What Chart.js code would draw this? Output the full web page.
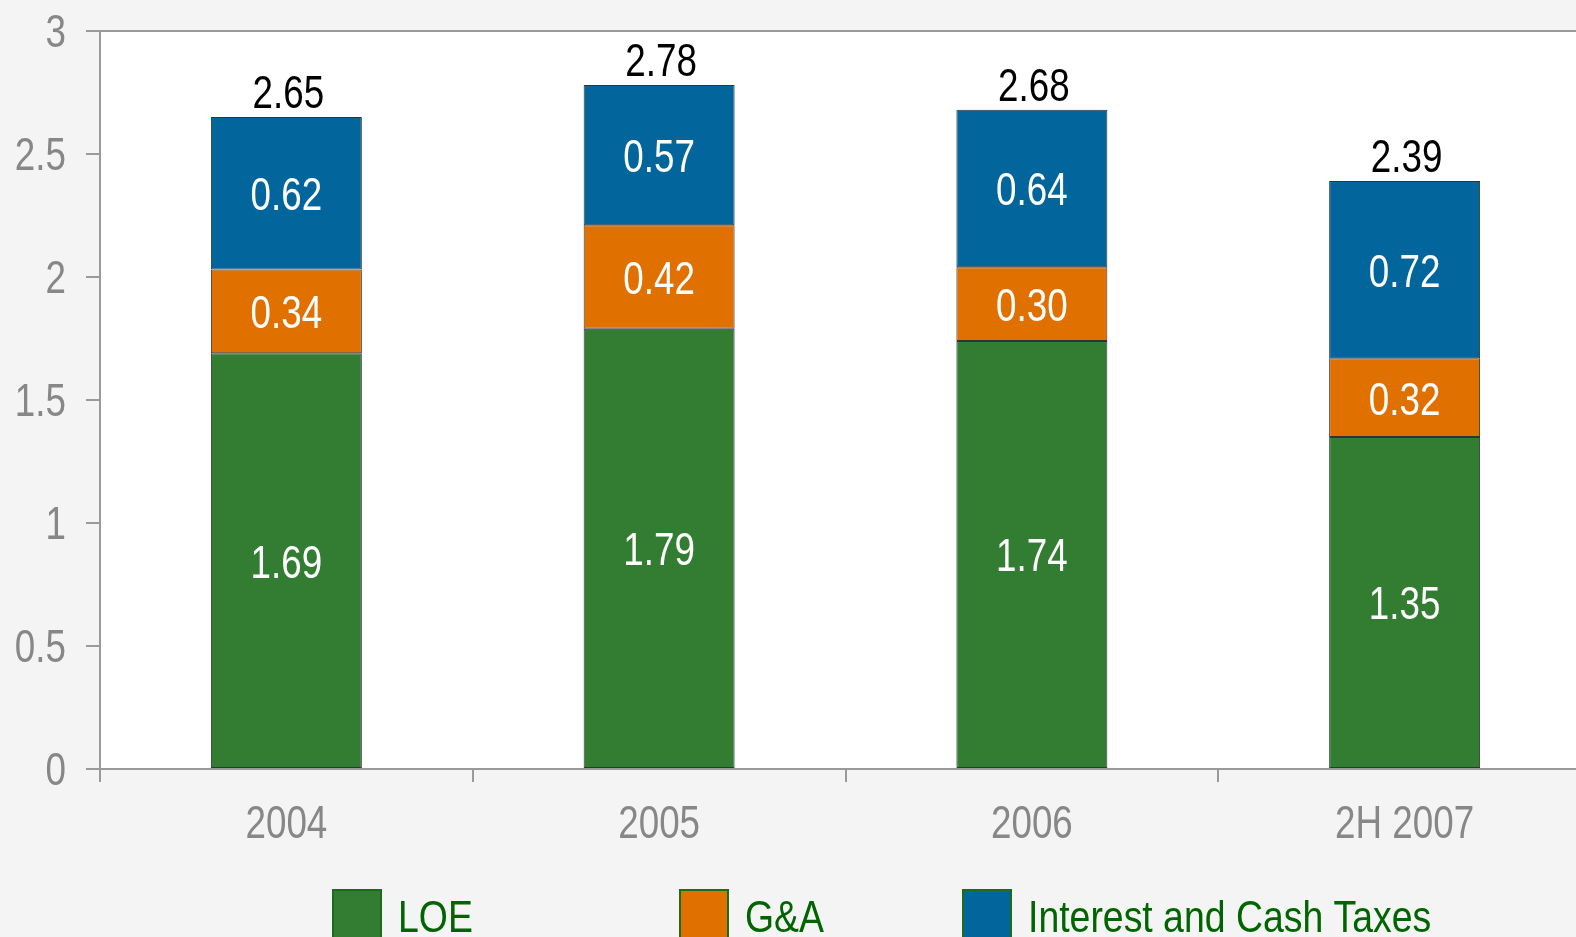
<!DOCTYPE html>
<html>
<head>
<meta charset="utf-8">
<script src="https://cdn.jsdelivr.net/npm/chart.js@4.4.1/dist/chart.umd.min.js"></script>
<style>
  html, body { margin: 0; padding: 0; background: #f4f4f4; overflow: hidden; }
  #wrap { width: 1600px; height: 937px; }
</style>
</head>
<body>
<div id="wrap"><canvas id="costChart" width="1600" height="937"></canvas></div>
<script>
// datos
const categories = ['2004', '2005', '2006', '2H 2007'];
const loe      = [1.69, 1.79, 1.74, 1.35];
const gna      = [0.34, 0.42, 0.30, 0.32];
const interest = [0.62, 0.57, 0.64, 0.72];
const totals   = ['2.65', '2.78', '2.68', '2.39'];
const yTicks   = [0, 0.5, 1, 1.5, 2, 2.5, 3];

const FONT = '"Liberation Sans", Arial, sans-serif';
const NARROW = 0.8;   // la fuente original es condensada

// texto comprimido en horizontal
function narrowText(ctx, text, x, y, align, scaleX) {
  const w = ctx.measureText(text).width * scaleX;
  let left = x;
  if (align === 'center') left = x - w / 2;
  else if (align === 'right') left = x - w;
  ctx.save();
  ctx.translate(left, y);
  ctx.scale(scaleX, 1);
  ctx.textAlign = 'left';
  ctx.fillText(text, 0, 0);
  ctx.restore();
}

// fondo gris + area blanca + borde superior
const backdrop = {
  id: 'backdrop',
  beforeDraw(chart) {
    const { ctx, chartArea: a } = chart;
    ctx.save();
    ctx.fillStyle = '#f4f4f4';
    ctx.fillRect(0, 0, chart.width, chart.height);
    ctx.fillStyle = '#ffffff';
    ctx.fillRect(a.left, a.top, a.right - a.left, a.bottom - a.top);
    ctx.strokeStyle = '#9a9a9a';
    ctx.lineWidth = 2;
    ctx.beginPath();
    ctx.moveTo(a.left - 14, a.top);
    ctx.lineTo(a.right, a.top);
    ctx.stroke();
    ctx.restore();
  }
};

// etiquetas de los ejes dibujadas con las escalas
const axisLabels = {
  id: 'axisLabels',
  afterDraw(chart) {
    const { ctx, scales } = chart;
    ctx.save();
    ctx.font = '46px ' + FONT;
    ctx.fillStyle = '#878787';
    ctx.textBaseline = 'alphabetic';
    yTicks.forEach(v => {
      const y = scales.y.getPixelForValue(v);
      narrowText(ctx, String(v), 66, y + 16, 'right', NARROW);
    });
    categories.forEach((c, i) => {
      const x = scales.x.getPixelForValue(i);
      narrowText(ctx, c, x, 838, 'center', NARROW);
    });
    ctx.restore();
  }
};

// etiquetas dentro de cada segmento y total encima
const valueLabels = {
  id: 'valueLabels',
  afterDatasetsDraw(chart) {
    const ctx = chart.ctx;
    ctx.save();
    ctx.font = '46px ' + FONT;
    ctx.textBaseline = 'alphabetic';
    ctx.fillStyle = '#ffffff';
    chart.data.datasets.forEach((ds, di) => {
      chart.getDatasetMeta(di).data.forEach((bar, i) => {
        const mid = (bar.y + bar.base) / 2;
        narrowText(ctx, ds.data[i].toFixed(2), bar.x, mid + 17, 'center', NARROW);
      });
    });
    const top = chart.getDatasetMeta(chart.data.datasets.length - 1).data;
    ctx.fillStyle = '#000000';
    top.forEach((bar, i) => {
      narrowText(ctx, totals[i], bar.x + 2, bar.y - 9, 'center', NARROW);
    });
    ctx.restore();
  }
};

// leyenda propia abajo (cortada por el borde)
const legendX = [333, 680, 963];
const bottomLegend = {
  id: 'bottomLegend',
  afterDraw(chart) {
    const ctx = chart.ctx;
    ctx.save();
    ctx.font = '44px ' + FONT;
    ctx.textBaseline = 'alphabetic';
    chart.data.datasets.forEach((ds, i) => {
      const x = legendX[i];
      ctx.fillStyle = ds.backgroundColor;
      ctx.fillRect(x, 890, 48, 70);
      ctx.strokeStyle = '#1d6b1d';
      ctx.lineWidth = 2;
      ctx.strokeRect(x, 890, 48, 70);
      ctx.fillStyle = '#006400';
      narrowText(ctx, ds.label, x + 65, 932, 'left', 0.85);
    });
    ctx.restore();
  }
};

const barOpts = {
  borderColor: '#333333',
  borderWidth: 1,
  borderSkipped: false,
  categoryPercentage: 1,
  barPercentage: 0.405
};

new Chart(document.getElementById('costChart'), {
  type: 'bar',
  data: {
    labels: categories,
    datasets: [
      { label: 'LOE', data: loe, backgroundColor: '#337d33', ...barOpts },
      { label: 'G&A', data: gna, backgroundColor: '#e07000', ...barOpts },
      { label: 'Interest and Cash Taxes', data: interest, backgroundColor: '#02659b', ...barOpts }
    ]
  },
  options: {
    responsive: false,
    animation: false,
    devicePixelRatio: 1,
    layout: { padding: { top: 31, right: 9, left: 0, bottom: 0 } },
    plugins: {
      legend: { display: false },
      tooltip: { enabled: false }
    },
    scales: {
      x: {
        stacked: true,
        afterFit(scale) { scale.height = 168; },
        border: { color: '#9a9a9a', width: 2 },
        grid: { drawOnChartArea: false, tickLength: 13, color: '#9a9a9a', lineWidth: 2, offset: true },
        ticks: { display: false }
      },
      y: {
        stacked: true,
        min: 0,
        max: 3,
        afterFit(scale) { scale.width = 100; },
        afterBuildTicks(scale) { scale.ticks = yTicks.map(v => ({ value: v })); },
        border: { color: '#9a9a9a', width: 2 },
        grid: { drawOnChartArea: false, tickLength: 14, color: '#9a9a9a', lineWidth: 2 },
        ticks: { display: false }
      }
    }
  },
  plugins: [backdrop, valueLabels, axisLabels, bottomLegend]
});
</script>
</body>
</html>
